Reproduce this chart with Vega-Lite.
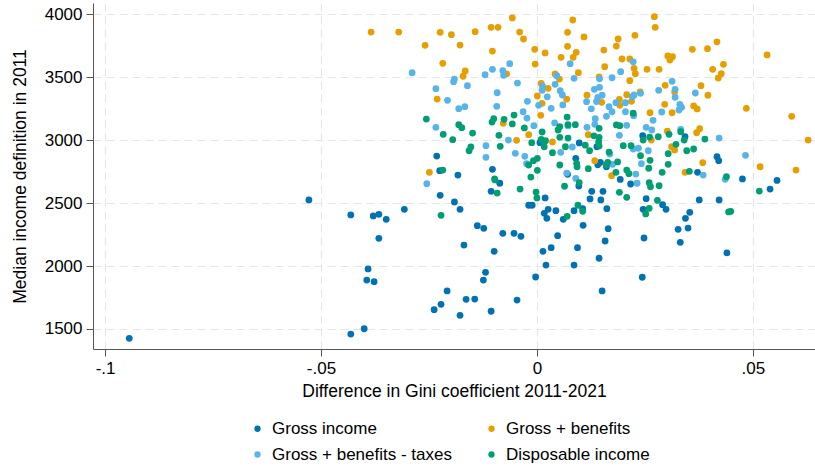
{
"$schema": "https://vega.github.io/schema/vega-lite/v6.json",
"width": 722, "height": 346,
"autosize": {"type": "none"},
"padding": {"left": 93, "top": 3, "right": 0, "bottom": 119},
"config": {"view": {"stroke": null}, "font": "Liberation Sans",
 "axis": {"domainColor": "#555555", "tickColor": "#555555", "domainWidth": 1, "tickWidth": 1, "labelFont": "Liberation Sans", "labelFontSize": 17, "labelColor": "#000000", "titleFont": "Liberation Sans", "titleFontSize": 17.5, "titleFontWeight": "normal", "titleColor": "#000000", "gridColor": "#e6e6e6", "gridDash": [8, 5], "gridWidth": 1.2}},
"datasets": {"pts": [
{"series":"Gross income","dgini":-0.0232,"income":2874},
{"series":"Gross income","dgini":-0.0225,"income":2758},
{"series":"Gross income","dgini":-0.0183,"income":2723},
{"series":"Gross income","dgini":-0.0103,"income":2769},
{"series":"Gross income","dgini":0.0007,"income":2980},
{"series":"Gross income","dgini":0.0098,"income":2978},
{"series":"Gross income","dgini":0.0090,"income":2856},
{"series":"Gross income","dgini":0.0141,"income":2805},
{"series":"Gross income","dgini":0.0139,"income":2948},
{"series":"Gross income","dgini":0.0245,"income":3036},
{"series":"Gross income","dgini":0.0343,"income":3028},
{"series":"Gross income","dgini":0.0417,"income":2869},
{"series":"Gross income","dgini":0.0421,"income":2837},
{"series":"Gross income","dgini":0.0147,"income":2824},
{"series":"Gross income","dgini":0.0161,"income":2789},
{"series":"Gross income","dgini":0.0372,"income":2745},
{"series":"Gross income","dgini":0.0476,"income":2692},
{"series":"Gross income","dgini":0.0556,"income":2680},
{"series":"Gross income","dgini":0.0193,"income":2688},
{"series":"Gross income","dgini":-0.0528,"income":2525},
{"series":"Gross income","dgini":-0.0431,"income":2406},
{"series":"Gross income","dgini":-0.0379,"income":2398},
{"series":"Gross income","dgini":-0.0366,"income":2411},
{"series":"Gross income","dgini":-0.0349,"income":2371},
{"series":"Gross income","dgini":-0.0307,"income":2451},
{"series":"Gross income","dgini":-0.0366,"income":2220},
{"series":"Gross income","dgini":-0.0391,"income":1977},
{"series":"Gross income","dgini":-0.0394,"income":1889},
{"series":"Gross income","dgini":-0.0377,"income":1876},
{"series":"Gross income","dgini":-0.0431,"income":1460},
{"series":"Gross income","dgini":-0.0400,"income":1502},
{"series":"Gross income","dgini":-0.0208,"income":1802},
{"series":"Gross income","dgini":-0.0222,"income":1696},
{"series":"Gross income","dgini":-0.0238,"income":1653},
{"series":"Gross income","dgini":-0.0178,"income":1609},
{"series":"Gross income","dgini":-0.0224,"income":2562},
{"series":"Gross income","dgini":-0.0191,"income":2509},
{"series":"Gross income","dgini":-0.0178,"income":2451},
{"series":"Gross income","dgini":-0.0086,"income":2658},
{"series":"Gross income","dgini":-0.0106,"income":2594},
{"series":"Gross income","dgini":-0.0138,"income":2321},
{"series":"Gross income","dgini":-0.0123,"income":2300},
{"series":"Gross income","dgini":-0.0169,"income":2167},
{"series":"Gross income","dgini":-0.0099,"income":2117},
{"series":"Gross income","dgini":-0.0079,"income":2260},
{"series":"Gross income","dgini":-0.0053,"income":2260},
{"series":"Gross income","dgini":-0.0037,"income":2236},
{"series":"Gross income","dgini":-0.0119,"income":1950},
{"series":"Gross income","dgini":-0.0124,"income":1889},
{"series":"Gross income","dgini":-0.0164,"income":1736},
{"series":"Gross income","dgini":-0.0144,"income":1738},
{"series":"Gross income","dgini":-0.0106,"income":1641},
{"series":"Gross income","dgini":-0.0046,"income":1730},
{"series":"Gross income","dgini":-0.0003,"income":1913},
{"series":"Gross income","dgini":0.0014,"income":2117},
{"series":"Gross income","dgini":0.0021,"income":2008},
{"series":"Gross income","dgini":0.0033,"income":2146},
{"series":"Gross income","dgini":0.0048,"income":2241},
{"series":"Gross income","dgini":-0.0019,"income":2483},
{"series":"Gross income","dgini":-0.0011,"income":2483},
{"series":"Gross income","dgini":0.0019,"income":2541},
{"series":"Gross income","dgini":0.0026,"income":2451},
{"series":"Gross income","dgini":0.0017,"income":2419},
{"series":"Gross income","dgini":0.0023,"income":2379},
{"series":"Gross income","dgini":0.0044,"income":2440},
{"series":"Gross income","dgini":0.0061,"income":2371},
{"series":"Gross income","dgini":0.0086,"income":2440},
{"series":"Gross income","dgini":0.0106,"income":2456},
{"series":"Gross income","dgini":0.0107,"income":2324},
{"series":"Gross income","dgini":0.0094,"income":2146},
{"series":"Gross income","dgini":0.0086,"income":2008},
{"series":"Gross income","dgini":0.0071,"income":2729},
{"series":"Gross income","dgini":0.0097,"income":2636},
{"series":"Gross income","dgini":0.0127,"income":2594},
{"series":"Gross income","dgini":0.0123,"income":2533},
{"series":"Gross income","dgini":0.0153,"income":2594},
{"series":"Gross income","dgini":0.0148,"income":2525},
{"series":"Gross income","dgini":0.0162,"income":2456},
{"series":"Gross income","dgini":0.0165,"income":2297},
{"series":"Gross income","dgini":0.0158,"income":2199},
{"series":"Gross income","dgini":0.0144,"income":2062},
{"series":"Gross income","dgini":0.0151,"income":1802},
{"series":"Gross income","dgini":0.0217,"income":2652},
{"series":"Gross income","dgini":0.0253,"income":2535},
{"series":"Gross income","dgini":0.0246,"income":2451},
{"series":"Gross income","dgini":0.0291,"income":2488},
{"series":"Gross income","dgini":0.0299,"income":2451},
{"series":"Gross income","dgini":0.0376,"income":2525},
{"series":"Gross income","dgini":0.0422,"income":2525},
{"series":"Gross income","dgini":0.0354,"income":2427},
{"series":"Gross income","dgini":0.0344,"income":2379},
{"series":"Gross income","dgini":0.0350,"income":2302},
{"series":"Gross income","dgini":0.0327,"income":2292},
{"series":"Gross income","dgini":0.0332,"income":2189},
{"series":"Gross income","dgini":0.0248,"income":2223},
{"series":"Gross income","dgini":0.0440,"income":2104},
{"series":"Gross income","dgini":0.0244,"income":1911},
{"series":"Gross income","dgini":0.0540,"income":2612},
{"series":"Gross income","dgini":-0.0944,"income":1426},
{"series":"Gross + benefits","dgini":-0.0320,"income":3859},
{"series":"Gross + benefits","dgini":-0.0224,"income":3857},
{"series":"Gross + benefits","dgini":-0.0198,"income":3838},
{"series":"Gross + benefits","dgini":-0.0143,"income":3862},
{"series":"Gross + benefits","dgini":-0.0106,"income":3897},
{"series":"Gross + benefits","dgini":-0.0090,"income":3897},
{"series":"Gross + benefits","dgini":-0.0057,"income":3971},
{"series":"Gross + benefits","dgini":-0.0040,"income":3859},
{"series":"Gross + benefits","dgini":-0.0031,"income":3804},
{"series":"Gross + benefits","dgini":-0.0259,"income":3754},
{"series":"Gross + benefits","dgini":-0.0178,"income":3756},
{"series":"Gross + benefits","dgini":-0.0103,"income":3708},
{"series":"Gross + benefits","dgini":-0.0005,"income":3722},
{"series":"Gross + benefits","dgini":0.0019,"income":3693},
{"series":"Gross + benefits","dgini":0.0083,"income":3955},
{"series":"Gross + benefits","dgini":0.0071,"income":3857},
{"series":"Gross + benefits","dgini":0.0109,"income":3820},
{"series":"Gross + benefits","dgini":0.0071,"income":3746},
{"series":"Gross + benefits","dgini":0.0091,"income":3698},
{"series":"Gross + benefits","dgini":0.0084,"income":3658},
{"series":"Gross + benefits","dgini":0.0056,"income":3658},
{"series":"Gross + benefits","dgini":-0.0218,"income":3611},
{"series":"Gross + benefits","dgini":-0.0004,"income":3605},
{"series":"Gross + benefits","dgini":-0.0166,"income":3550},
{"series":"Gross + benefits","dgini":-0.0171,"income":3508},
{"series":"Gross + benefits","dgini":-0.0070,"income":3526},
{"series":"Gross + benefits","dgini":0.0096,"income":3536},
{"series":"Gross + benefits","dgini":0.0042,"income":3526},
{"series":"Gross + benefits","dgini":0.0052,"income":3486},
{"series":"Gross + benefits","dgini":0.0144,"income":3502},
{"series":"Gross + benefits","dgini":0.0010,"income":3452},
{"series":"Gross + benefits","dgini":0.0026,"income":3412},
{"series":"Gross + benefits","dgini":-0.0231,"income":3327},
{"series":"Gross + benefits","dgini":0.0001,"income":3351},
{"series":"Gross + benefits","dgini":0.0069,"income":3327},
{"series":"Gross + benefits","dgini":0.0012,"income":3293},
{"series":"Gross + benefits","dgini":0.0116,"income":3357},
{"series":"Gross + benefits","dgini":0.0009,"income":3198},
{"series":"Gross + benefits","dgini":-0.0078,"income":3134},
{"series":"Gross + benefits","dgini":-0.0019,"income":3044},
{"series":"Gross + benefits","dgini":-0.0047,"income":2999},
{"series":"Gross + benefits","dgini":0.0036,"income":2986},
{"series":"Gross + benefits","dgini":0.0119,"income":3044},
{"series":"Gross + benefits","dgini":-0.0249,"income":2745},
{"series":"Gross + benefits","dgini":0.0134,"income":2837},
{"series":"Gross + benefits","dgini":0.0272,"income":3981},
{"series":"Gross + benefits","dgini":0.0274,"income":3897},
{"series":"Gross + benefits","dgini":0.0188,"income":3804},
{"series":"Gross + benefits","dgini":0.0184,"income":3748},
{"series":"Gross + benefits","dgini":0.0227,"income":3833},
{"series":"Gross + benefits","dgini":0.0155,"income":3716},
{"series":"Gross + benefits","dgini":0.0197,"income":3645},
{"series":"Gross + benefits","dgini":0.0215,"income":3645},
{"series":"Gross + benefits","dgini":0.0157,"income":3584},
{"series":"Gross + benefits","dgini":0.0225,"income":3571},
{"series":"Gross + benefits","dgini":0.0228,"income":3528},
{"series":"Gross + benefits","dgini":0.0255,"income":3563},
{"series":"Gross + benefits","dgini":0.0283,"income":3563},
{"series":"Gross + benefits","dgini":0.0303,"income":3669},
{"series":"Gross + benefits","dgini":0.0314,"income":3663},
{"series":"Gross + benefits","dgini":0.0308,"income":3637},
{"series":"Gross + benefits","dgini":0.0360,"income":3722},
{"series":"Gross + benefits","dgini":0.0395,"income":3727},
{"series":"Gross + benefits","dgini":0.0417,"income":3782},
{"series":"Gross + benefits","dgini":0.0432,"income":3603},
{"series":"Gross + benefits","dgini":0.0407,"income":3563},
{"series":"Gross + benefits","dgini":0.0427,"income":3528},
{"series":"Gross + benefits","dgini":0.0420,"income":3494},
{"series":"Gross + benefits","dgini":0.0533,"income":3677},
{"series":"Gross + benefits","dgini":0.0215,"income":3473},
{"series":"Gross + benefits","dgini":0.0297,"income":3436},
{"series":"Gross + benefits","dgini":0.0380,"income":3433},
{"series":"Gross + benefits","dgini":0.0396,"income":3357},
{"series":"Gross + benefits","dgini":0.0208,"income":3361},
{"series":"Gross + benefits","dgini":0.0239,"income":3383},
{"series":"Gross + benefits","dgini":0.0319,"income":3383},
{"series":"Gross + benefits","dgini":0.0191,"income":3325},
{"series":"Gross + benefits","dgini":0.0150,"income":3301},
{"series":"Gross + benefits","dgini":0.0192,"income":3277},
{"series":"Gross + benefits","dgini":0.0219,"income":3309},
{"series":"Gross + benefits","dgini":0.0296,"income":3285},
{"series":"Gross + benefits","dgini":0.0363,"income":3272},
{"series":"Gross + benefits","dgini":0.0371,"income":3248},
{"series":"Gross + benefits","dgini":0.0485,"income":3253},
{"series":"Gross + benefits","dgini":0.0262,"income":3218},
{"series":"Gross + benefits","dgini":0.0313,"income":3218},
{"series":"Gross + benefits","dgini":0.0590,"income":3190},
{"series":"Gross + benefits","dgini":0.0628,"income":3001},
{"series":"Gross + benefits","dgini":0.0377,"income":3091},
{"series":"Gross + benefits","dgini":0.0370,"income":3059},
{"series":"Gross + benefits","dgini":0.0302,"income":3071},
{"series":"Gross + benefits","dgini":0.0265,"income":3001},
{"series":"Gross + benefits","dgini":0.0312,"income":2948},
{"series":"Gross + benefits","dgini":0.0319,"income":2922},
{"series":"Gross + benefits","dgini":0.0384,"income":2821},
{"series":"Gross + benefits","dgini":0.0517,"income":2789},
{"series":"Gross + benefits","dgini":0.0600,"income":2763},
{"series":"Gross + benefits","dgini":0.0343,"income":2745},
{"series":"Gross + benefits","dgini":0.0173,"income":2718},
{"series":"Gross + benefits","dgini":-0.0384,"income":3859},
{"series":"Gross + benefits - taxes","dgini":-0.0289,"income":3536},
{"series":"Gross + benefits - taxes","dgini":-0.0191,"income":3486},
{"series":"Gross + benefits - taxes","dgini":-0.0193,"income":3465},
{"series":"Gross + benefits - taxes","dgini":-0.0161,"income":3433},
{"series":"Gross + benefits - taxes","dgini":-0.0234,"income":3409},
{"series":"Gross + benefits - taxes","dgini":-0.0120,"income":3520},
{"series":"Gross + benefits - taxes","dgini":-0.0103,"income":3563},
{"series":"Gross + benefits - taxes","dgini":-0.0079,"income":3552},
{"series":"Gross + benefits - taxes","dgini":-0.0077,"income":3515},
{"series":"Gross + benefits - taxes","dgini":-0.0063,"income":3608},
{"series":"Gross + benefits - taxes","dgini":-0.0045,"income":3454},
{"series":"Gross + benefits - taxes","dgini":-0.0092,"income":3377},
{"series":"Gross + benefits - taxes","dgini":-0.0207,"income":3317},
{"series":"Gross + benefits - taxes","dgini":-0.0181,"income":3250},
{"series":"Gross + benefits - taxes","dgini":-0.0167,"income":3266},
{"series":"Gross + benefits - taxes","dgini":-0.0093,"income":3269},
{"series":"Gross + benefits - taxes","dgini":-0.0022,"income":3309},
{"series":"Gross + benefits - taxes","dgini":-0.0032,"income":3226},
{"series":"Gross + benefits - taxes","dgini":-0.0023,"income":3176},
{"series":"Gross + benefits - taxes","dgini":-0.0234,"income":3102},
{"series":"Gross + benefits - taxes","dgini":-0.0007,"income":3115},
{"series":"Gross + benefits - taxes","dgini":0.0046,"income":3512},
{"series":"Gross + benefits - taxes","dgini":0.0077,"income":3608},
{"series":"Gross + benefits - taxes","dgini":0.0086,"income":3492},
{"series":"Gross + benefits - taxes","dgini":0.0042,"income":3444},
{"series":"Gross + benefits - taxes","dgini":0.0013,"income":3430},
{"series":"Gross + benefits - taxes","dgini":0.0012,"income":3396},
{"series":"Gross + benefits - taxes","dgini":0.0024,"income":3345},
{"series":"Gross + benefits - taxes","dgini":0.0054,"income":3393},
{"series":"Gross + benefits - taxes","dgini":0.0059,"income":3359},
{"series":"Gross + benefits - taxes","dgini":0.0060,"income":3280},
{"series":"Gross + benefits - taxes","dgini":0.0033,"income":3253},
{"series":"Gross + benefits - taxes","dgini":0.0004,"income":3277},
{"series":"Gross + benefits - taxes","dgini":0.0133,"income":3404},
{"series":"Gross + benefits - taxes","dgini":0.0145,"income":3488},
{"series":"Gross + benefits - taxes","dgini":0.0138,"income":3307},
{"series":"Gross + benefits - taxes","dgini":0.0126,"income":3249},
{"series":"Gross + benefits - taxes","dgini":0.0115,"income":3306},
{"series":"Gross + benefits - taxes","dgini":0.0134,"income":3126},
{"series":"Gross + benefits - taxes","dgini":0.0116,"income":3102},
{"series":"Gross + benefits - taxes","dgini":0.0041,"income":3137},
{"series":"Gross + benefits - taxes","dgini":0.0072,"income":3113},
{"series":"Gross + benefits - taxes","dgini":-0.0066,"income":3001},
{"series":"Gross + benefits - taxes","dgini":-0.0118,"income":2956},
{"series":"Gross + benefits - taxes","dgini":-0.0118,"income":2864},
{"series":"Gross + benefits - taxes","dgini":-0.0050,"income":2896},
{"series":"Gross + benefits - taxes","dgini":-0.0028,"income":2872},
{"series":"Gross + benefits - taxes","dgini":-0.0024,"income":2813},
{"series":"Gross + benefits - taxes","dgini":0.0055,"income":2904},
{"series":"Gross + benefits - taxes","dgini":0.0082,"income":2946},
{"series":"Gross + benefits - taxes","dgini":0.0069,"income":2739},
{"series":"Gross + benefits - taxes","dgini":0.0090,"income":2696},
{"series":"Gross + benefits - taxes","dgini":0.0223,"income":3623},
{"series":"Gross + benefits - taxes","dgini":0.0194,"income":3544},
{"series":"Gross + benefits - taxes","dgini":0.0174,"income":3496},
{"series":"Gross + benefits - taxes","dgini":0.0145,"income":3420},
{"series":"Gross + benefits - taxes","dgini":0.0151,"income":3357},
{"series":"Gross + benefits - taxes","dgini":0.0141,"income":3341},
{"series":"Gross + benefits - taxes","dgini":0.0167,"income":3266},
{"series":"Gross + benefits - taxes","dgini":0.0174,"income":3226},
{"series":"Gross + benefits - taxes","dgini":0.0161,"income":3190},
{"series":"Gross + benefits - taxes","dgini":0.0183,"income":3298},
{"series":"Gross + benefits - taxes","dgini":0.0205,"income":3298},
{"series":"Gross + benefits - taxes","dgini":0.0221,"income":3345},
{"series":"Gross + benefits - taxes","dgini":0.0225,"income":3359},
{"series":"Gross + benefits - taxes","dgini":0.0240,"income":3372},
{"series":"Gross + benefits - taxes","dgini":0.0205,"income":3226},
{"series":"Gross + benefits - taxes","dgini":0.0224,"income":3195},
{"series":"Gross + benefits - taxes","dgini":0.0282,"income":3396},
{"series":"Gross + benefits - taxes","dgini":0.0313,"income":3468},
{"series":"Gross + benefits - taxes","dgini":0.0320,"income":3404},
{"series":"Gross + benefits - taxes","dgini":0.0320,"income":3341},
{"series":"Gross + benefits - taxes","dgini":0.0367,"income":3375},
{"series":"Gross + benefits - taxes","dgini":0.0289,"income":3224},
{"series":"Gross + benefits - taxes","dgini":0.0331,"income":3285},
{"series":"Gross + benefits - taxes","dgini":0.0335,"income":3261},
{"series":"Gross + benefits - taxes","dgini":0.0329,"income":3240},
{"series":"Gross + benefits - taxes","dgini":0.0269,"income":3158},
{"series":"Gross + benefits - taxes","dgini":0.0253,"income":3102},
{"series":"Gross + benefits - taxes","dgini":0.0266,"income":3081},
{"series":"Gross + benefits - taxes","dgini":0.0208,"income":3118},
{"series":"Gross + benefits - taxes","dgini":0.0135,"income":3171},
{"series":"Gross + benefits - taxes","dgini":0.0191,"income":3039},
{"series":"Gross + benefits - taxes","dgini":0.0333,"income":3086},
{"series":"Gross + benefits - taxes","dgini":0.0422,"income":3017},
{"series":"Gross + benefits - taxes","dgini":0.0483,"income":2880},
{"series":"Gross + benefits - taxes","dgini":0.0223,"income":2930},
{"series":"Gross + benefits - taxes","dgini":0.0235,"income":2936},
{"series":"Gross + benefits - taxes","dgini":0.0258,"income":2916},
{"series":"Gross + benefits - taxes","dgini":0.0242,"income":2813},
{"series":"Gross + benefits - taxes","dgini":0.0169,"income":2890},
{"series":"Gross + benefits - taxes","dgini":0.0175,"income":2808},
{"series":"Gross + benefits - taxes","dgini":0.0385,"income":2723},
{"series":"Gross + benefits - taxes","dgini":0.0229,"income":2731},
{"series":"Gross + benefits - taxes","dgini":-0.0255,"income":2654},
{"series":"Gross + benefits - taxes","dgini":0.0232,"income":2658},
{"series":"Gross + benefits - taxes","dgini":0.0436,"income":2689},
{"series":"Disposable income","dgini":-0.0256,"income":3168},
{"series":"Disposable income","dgini":-0.0181,"income":3123},
{"series":"Disposable income","dgini":-0.0174,"income":3099},
{"series":"Disposable income","dgini":-0.0217,"income":3047},
{"series":"Disposable income","dgini":-0.0195,"income":3004},
{"series":"Disposable income","dgini":-0.0149,"income":3057},
{"series":"Disposable income","dgini":-0.0104,"income":3144},
{"series":"Disposable income","dgini":-0.0100,"income":3171},
{"series":"Disposable income","dgini":-0.0076,"income":3166},
{"series":"Disposable income","dgini":-0.0053,"income":3200},
{"series":"Disposable income","dgini":-0.0057,"income":3129},
{"series":"Disposable income","dgini":-0.0029,"income":3097},
{"series":"Disposable income","dgini":-0.0088,"income":3039},
{"series":"Disposable income","dgini":-0.0085,"income":2951},
{"series":"Disposable income","dgini":-0.0153,"income":2946},
{"series":"Disposable income","dgini":-0.0157,"income":2916},
{"series":"Disposable income","dgini":-0.0012,"income":2980},
{"series":"Disposable income","dgini":0.0012,"income":3065},
{"series":"Disposable income","dgini":0.0010,"income":3007},
{"series":"Disposable income","dgini":0.0020,"income":2996},
{"series":"Disposable income","dgini":0.0017,"income":2948},
{"series":"Disposable income","dgini":0.0036,"income":2901},
{"series":"Disposable income","dgini":0.0053,"income":3107},
{"series":"Disposable income","dgini":0.0049,"income":3081},
{"series":"Disposable income","dgini":0.0070,"income":3184},
{"series":"Disposable income","dgini":0.0072,"income":3123},
{"series":"Disposable income","dgini":0.0089,"income":3123},
{"series":"Disposable income","dgini":0.0072,"income":3017},
{"series":"Disposable income","dgini":0.0066,"income":2948},
{"series":"Disposable income","dgini":0.0053,"income":3023},
{"series":"Disposable income","dgini":0.0112,"income":2960},
{"series":"Disposable income","dgini":0.0122,"income":2916},
{"series":"Disposable income","dgini":0.0132,"income":3035},
{"series":"Disposable income","dgini":0.0144,"income":3094},
{"series":"Disposable income","dgini":0.0001,"income":2856},
{"series":"Disposable income","dgini":-0.0008,"income":2837},
{"series":"Disposable income","dgini":-0.0019,"income":2803},
{"series":"Disposable income","dgini":0.0053,"income":2803},
{"series":"Disposable income","dgini":0.0092,"income":2816},
{"series":"Disposable income","dgini":0.0093,"income":2789},
{"series":"Disposable income","dgini":0.0119,"income":2774},
{"series":"Disposable income","dgini":0.0001,"income":2761},
{"series":"Disposable income","dgini":-0.0014,"income":2707},
{"series":"Disposable income","dgini":-0.0218,"income":2763},
{"series":"Disposable income","dgini":-0.0098,"income":2692},
{"series":"Disposable income","dgini":0.0223,"income":3214},
{"series":"Disposable income","dgini":0.0184,"income":3121},
{"series":"Disposable income","dgini":0.0192,"income":3115},
{"series":"Disposable income","dgini":0.0144,"income":3023},
{"series":"Disposable income","dgini":0.0143,"income":2988},
{"series":"Disposable income","dgini":0.0144,"income":2954},
{"series":"Disposable income","dgini":0.0200,"income":2956},
{"series":"Disposable income","dgini":0.0218,"income":2956},
{"series":"Disposable income","dgini":0.0246,"income":3001},
{"series":"Disposable income","dgini":0.0261,"income":3025},
{"series":"Disposable income","dgini":0.0281,"income":3028},
{"series":"Disposable income","dgini":0.0306,"income":3047},
{"series":"Disposable income","dgini":0.0322,"income":2967},
{"series":"Disposable income","dgini":0.0333,"income":3067},
{"series":"Disposable income","dgini":0.0341,"income":3001},
{"series":"Disposable income","dgini":0.0389,"income":3009},
{"series":"Disposable income","dgini":0.0347,"income":2916},
{"series":"Disposable income","dgini":0.0363,"income":2930},
{"series":"Disposable income","dgini":0.0304,"income":2893},
{"series":"Disposable income","dgini":0.0240,"income":2877},
{"series":"Disposable income","dgini":0.0167,"income":2906},
{"series":"Disposable income","dgini":0.0164,"income":2824},
{"series":"Disposable income","dgini":0.0187,"income":2827},
{"series":"Disposable income","dgini":0.0262,"income":2840},
{"series":"Disposable income","dgini":0.0304,"income":2808},
{"series":"Disposable income","dgini":0.0259,"income":2777},
{"series":"Disposable income","dgini":0.0208,"income":2763},
{"series":"Disposable income","dgini":0.0213,"income":2734},
{"series":"Disposable income","dgini":0.0183,"income":2745},
{"series":"Disposable income","dgini":0.0290,"income":2745},
{"series":"Disposable income","dgini":0.0353,"income":2753},
{"series":"Disposable income","dgini":0.0439,"income":2710},
{"series":"Disposable income","dgini":0.0161,"income":2803},
{"series":"Disposable income","dgini":-0.0222,"income":2403},
{"series":"Disposable income","dgini":-0.0097,"income":2684},
{"series":"Disposable income","dgini":-0.0092,"income":2580},
{"series":"Disposable income","dgini":-0.0039,"income":2612},
{"series":"Disposable income","dgini":-0.0002,"income":2588},
{"series":"Disposable income","dgini":0.0000,"income":2541},
{"series":"Disposable income","dgini":0.0064,"income":2634},
{"series":"Disposable income","dgini":0.0098,"income":2662},
{"series":"Disposable income","dgini":0.0095,"income":2483},
{"series":"Disposable income","dgini":0.0106,"income":2435},
{"series":"Disposable income","dgini":0.0070,"income":2395},
{"series":"Disposable income","dgini":0.0191,"income":2586},
{"series":"Disposable income","dgini":0.0208,"income":2546},
{"series":"Disposable income","dgini":0.0260,"income":2662},
{"series":"Disposable income","dgini":0.0263,"income":2630},
{"series":"Disposable income","dgini":0.0283,"income":2638},
{"series":"Disposable income","dgini":0.0279,"income":2522},
{"series":"Disposable income","dgini":0.0260,"income":2459},
{"series":"Disposable income","dgini":0.0252,"income":2414},
{"series":"Disposable income","dgini":0.0515,"income":2596},
{"series":"Disposable income","dgini":0.0444,"income":2430},
{"series":"Disposable income","dgini":0.0449,"income":2435}
]},
"layer": [
 {"data": {"name": "pts"},
  "mark": {"type": "point", "filled": true, "opacity": 1, "size": 46, "strokeWidth": 0},
  "encoding": {
   "x": {"field": "dgini", "type": "quantitative",
    "scale": {"domain": [-0.1028, 0.0644], "nice": false, "zero": false},
    "axis": {"values": [-0.1, -0.05, 0, 0.05], "title": "Difference in Gini coefficient 2011-2021", "tickSize": 7, "labelPadding": 4, "titlePadding": 6, "labelFlush": false,
     "labelExpr": "datum.value == 0 ? '0' : (datum.value < 0 ? '-' : '') + replace(toString(abs(datum.value)), '0.', '.')"}},
   "y": {"field": "income", "type": "quantitative",
    "scale": {"domain": [1341, 4090], "nice": false, "zero": false},
    "axis": {"values": [1500, 2000, 2500, 3000, 3500, 4000], "format": "d", "title": "Median income definition in 2011", "tickSize": 7, "labelPadding": 4, "titlePadding": 15}},
   "color": {"field": "series", "type": "nominal",
    "scale": {"domain": ["Gross income", "Gross + benefits", "Gross + benefits - taxes", "Disposable income"], "range": ["#0072B2", "#E69F00", "#56B4E9", "#009E73"]},
    "legend": {"title": null, "orient": "none", "direction": "horizontal", "legendX": 156, "legendY": 417, "columns": 2, "columnPadding": 31, "rowPadding": 8, "symbolSize": 40, "symbolType": "circle", "symbolStrokeWidth": 0, "labelFont": "Liberation Sans", "labelFontSize": 17, "labelColor": "#000000", "labelOffset": 6, "padding": 0, "labelLimit": 400}}
  }},
 {"mark": {"type": "rule", "color": "#e8262b", "strokeWidth": 2, "strokeDash": [7, 4]},
  "encoding": {"x": {"datum": 0, "type": "quantitative"}}}
]
}
